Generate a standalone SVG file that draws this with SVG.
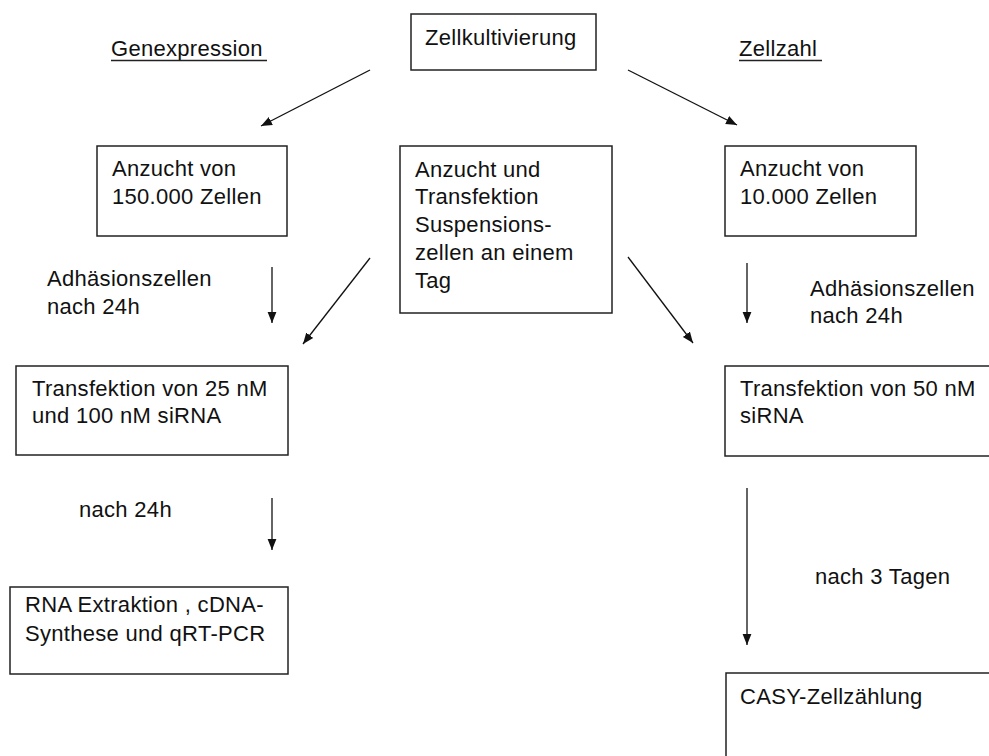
<svg xmlns="http://www.w3.org/2000/svg" width="989" height="756" viewBox="0 0 989 756">
<style>
text{font-family:"Liberation Sans",Arial,sans-serif;font-size:22px;fill:#111;letter-spacing:0.3px}
.box{fill:#fff;stroke:#222;stroke-width:1.5}
.con{stroke:#111;stroke-width:1.3;fill:none;marker-end:url(#ah)}
.ul{stroke:#222;stroke-width:1.3}
</style>
<defs>
<marker id="ah" viewBox="0 0 10 10" refX="10" refY="5" markerWidth="11" markerHeight="11" markerUnits="userSpaceOnUse" orient="auto">
<path d="M0,1 L10,5 L0,9 Z" fill="#111"/>
</marker>
</defs>
<rect width="989" height="756" fill="#fff"/>
<g id="label-genexpression">
<text x="111" y="56">Genexpression</text>
<line class="ul" x1="111" y1="60.5" x2="267" y2="60.5"/>
</g>
<g id="label-zellzahl">
<text x="739" y="56">Zellzahl</text>
<line class="ul" x1="739" y1="60.5" x2="822" y2="60.5"/>
</g>
<g id="n-zellkultivierung">
<rect class="box" x="411" y="14" width="185" height="56"/>
<text x="425" y="45">Zellkultivierung</text>
</g>
<g id="n-anzucht150">
<rect class="box" x="97" y="146" width="190" height="90"/>
<text x="112" y="176">Anzucht von</text>
<text x="112" y="204">150.000 Zellen</text>
</g>
<g id="n-suspension">
<rect class="box" x="400" y="146" width="212" height="167"/>
<text x="415" y="177">Anzucht und</text>
<text x="415" y="204">Transfektion</text>
<text x="415" y="232">Suspensions-</text>
<text x="415" y="260">zellen an einem</text>
<text x="415" y="288">Tag</text>
</g>
<g id="n-anzucht10">
<rect class="box" x="725" y="146" width="191" height="90"/>
<text x="740" y="176">Anzucht von</text>
<text x="740" y="204">10.000 Zellen</text>
</g>
<g id="n-transf25">
<rect class="box" x="16" y="366" width="272" height="89"/>
<text x="32" y="396">Transfektion von 25 nM</text>
<text x="32" y="423">und 100 nM siRNA</text>
</g>
<g id="n-transf50">
<rect class="box" x="725" y="366" width="280" height="90"/>
<text x="740" y="396">Transfektion von 50 nM</text>
<text x="740" y="423">siRNA</text>
</g>
<g id="n-rna">
<rect class="box" x="10" y="587" width="278" height="87"/>
<text x="25" y="612">RNA Extraktion , cDNA-</text>
<text x="25" y="641">Synthese und qRT-PCR</text>
</g>
<g id="n-casy">
<rect class="box" x="726" y="673" width="280" height="100"/>
<text x="740" y="704">CASY-Zellzählung</text>
</g>
<g id="edge-labels">
<text x="47" y="286">Adhäsionszellen</text>
<text x="47" y="314">nach 24h</text>
<text x="810" y="296">Adhäsionszellen</text>
<text x="810" y="323">nach 24h</text>
<text x="79" y="517">nach 24h</text>
<text x="815" y="584">nach 3 Tagen</text>
</g>
<g id="connectors">
<line class="con" x1="370" y1="70" x2="261" y2="126"/>
<line class="con" x1="628" y1="70" x2="737" y2="125"/>
<line class="con" x1="272" y1="267" x2="272" y2="323"/>
<line class="con" x1="370" y1="258" x2="303" y2="344"/>
<line class="con" x1="628" y1="257" x2="693" y2="343"/>
<line class="con" x1="747" y1="263" x2="747" y2="323"/>
<line class="con" x1="272" y1="498" x2="272" y2="550"/>
<line class="con" x1="747" y1="488" x2="747" y2="645"/>
</g>
</svg>
